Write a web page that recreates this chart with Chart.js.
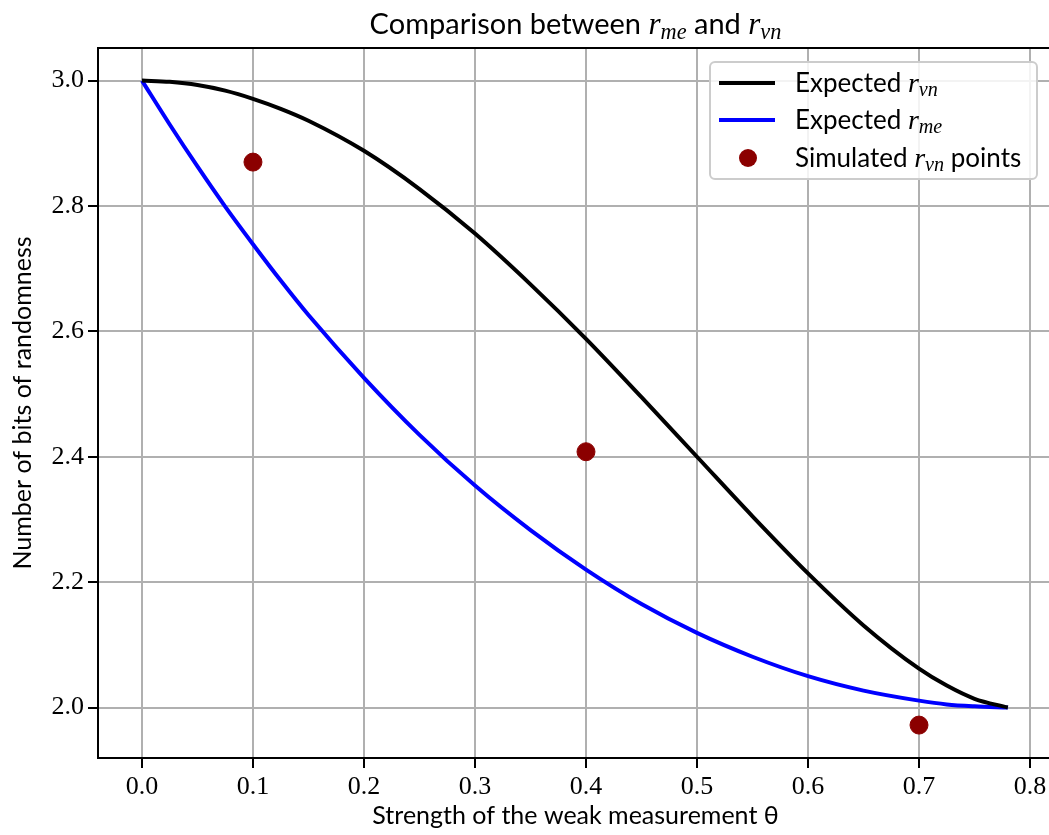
<!DOCTYPE html>
<html>
<head>
<meta charset="utf-8">
<script src="https://cdn.jsdelivr.net/npm/chart.js@4.4.1/dist/chart.umd.min.js"></script>
<style>
  html, body { margin: 0; padding: 0; background: #fff; overflow: hidden; }
  #wrap { position: relative; width: 1080px; height: 835px; }
  #title {
    position: absolute; left: 0; top: 5px; width: 1151px; text-align: center;
    font-family: Lato, sans-serif; font-size: 29px; color: #000; white-space: nowrap;
  }
  #title .m { font-size: 31px; }
  .m { font-family: "Liberation Serif", serif; font-style: italic; font-size: 28px; }
  .m sub { font-size: 0.72em; vertical-align: -0.22em; }
  #legend {
    position: absolute; left: 709px; top: 61px; width: 325px; height: 115px;
    border: 2px solid #cccccc; border-radius: 6px; background: rgba(255,255,255,0.85);
    font-family: Lato, sans-serif; font-size: 26px; color: #000;
  }
  .row { position: absolute; left: 0; height: 36px; line-height: 36px; white-space: nowrap; }
  .sw { position: absolute; left: 8px; top: 16px; width: 56px; height: 4px; }
  .dot { position: absolute; left: 28px; top: 9px; width: 18px; height: 18px; border-radius: 50%; background: #8b0000; }
  .txt { position: absolute; left: 84px; top: -1px; }
</style>
</head>
<body>
<div id="wrap">
  <canvas id="chart" width="1080" height="835"></canvas>
  <div id="title">Comparison between <span class="m">r<sub>me</sub></span> and <span class="m">r<sub>vn</sub></span></div>
  <div id="legend">
    <div class="row" style="top:2px"><div class="sw" style="background:#000"></div><div class="txt">Expected <span class="m">r<sub>vn</sub></span></div></div>
    <div class="row" style="top:39px"><div class="sw" style="background:#0000ff"></div><div class="txt">Expected <span class="m">r<sub>me</sub></span></div></div>
    <div class="row" style="top:77px"><div class="dot"></div><div class="txt">Simulated <span class="m">r<sub>vn</sub></span> points</div></div>
  </div>
</div>
<script>
// theta values along the curves
const thetaValues = [0, 0.025, 0.05, 0.075, 0.1, 0.125, 0.15, 0.2, 0.25, 0.3, 0.35, 0.4, 0.45, 0.5, 0.55, 0.6, 0.65, 0.7, 0.725, 0.75, 0.78];
// expected r_vn (black)
const rvnExpected = [3.0, 2.998, 2.993, 2.984, 2.971, 2.955, 2.936, 2.888, 2.827, 2.756, 2.675, 2.588, 2.495, 2.400, 2.305, 2.214, 2.131, 2.062, 2.035, 2.014, 2.000];
// expected r_me (blue)
const rmeExpected = [3.0, 2.930, 2.863, 2.799, 2.739, 2.681, 2.626, 2.526, 2.435, 2.354, 2.283, 2.220, 2.165, 2.119, 2.081, 2.050, 2.027, 2.011, 2.005, 2.002, 2.000];
// simulated r_vn points
const simTheta = [0.1, 0.4, 0.7];
const simRvn = [2.870, 2.408, 1.972];

const xTickValues = [0, 0.1, 0.2, 0.3, 0.4, 0.5, 0.6, 0.7, 0.8];
const yTickValues = [2.0, 2.2, 2.4, 2.6, 2.8, 3.0];

const toXY = (xs, ys) => xs.map((x, i) => ({ x: x, y: ys[i] }));

// top spine (the right one falls outside the picture)
const framePlugin = {
  id: 'frame',
  afterDatasetsDraw(chart) {
    const { ctx, chartArea } = chart;
    ctx.save();
    ctx.strokeStyle = '#000';
    ctx.lineWidth = 2;
    ctx.beginPath();
    ctx.moveTo(chartArea.left - 1, chartArea.top);
    ctx.lineTo(chartArea.right, chartArea.top);
    ctx.stroke();
    ctx.restore();
  }
};

const tickFont = { family: '"Liberation Serif", serif', size: 26 };
const labelFont = { family: 'Lato, sans-serif', size: 25 };

const ctx = document.getElementById('chart').getContext('2d');
new Chart(ctx, {
  type: 'line',
  data: {
    datasets: [
      {
        label: 'Expected r_vn',
        data: toXY(thetaValues, rvnExpected),
        borderColor: '#000000',
        borderWidth: 4,
        pointRadius: 0,
        fill: false,
        cubicInterpolationMode: 'monotone'
      },
      {
        label: 'Expected r_me',
        data: toXY(thetaValues, rmeExpected),
        borderColor: '#0000ff',
        borderWidth: 4,
        pointRadius: 0,
        fill: false,
        cubicInterpolationMode: 'monotone'
      },
      {
        type: 'scatter',
        label: 'Simulated r_vn points',
        data: toXY(simTheta, simRvn),
        backgroundColor: '#8b0000',
        borderColor: '#8b0000',
        pointRadius: 9,
        showLine: false
      }
    ]
  },
  options: {
    responsive: false,
    animation: false,
    devicePixelRatio: 1,
    layout: { padding: { top: 48, right: 27, left: 0, bottom: 0 } },
    plugins: {
      legend: { display: false },
      title: { display: false },
      tooltip: { enabled: false }
    },
    scales: {
      x: {
        type: 'linear',
        min: -0.0396,
        max: 0.8207,
        afterFit: s => { s.height = 77; },
        afterBuildTicks: s => { s.ticks = xTickValues.map(v => ({ value: v })); },
        ticks: { font: tickFont, color: '#000', padding: 4, maxRotation: 0, callback: v => v.toFixed(1) },
        grid: { color: '#b0b0b0', lineWidth: 2, tickLength: 10, tickColor: '#000', tickWidth: 2 },
        border: { color: '#000', width: 2 },
        title: { display: true, text: 'Strength of the weak measurement θ', font: labelFont, color: '#000', padding: { top: 0, bottom: 4 } }
      },
      y: {
        type: 'linear',
        min: 1.9195,
        max: 3.052,
        afterFit: s => { s.width = 98; },
        afterBuildTicks: s => { s.ticks = yTickValues.map(v => ({ value: v })); },
        ticks: { font: tickFont, color: '#000', padding: 4, callback: v => v.toFixed(1) },
        grid: { color: '#b0b0b0', lineWidth: 2, tickLength: 10, tickColor: '#000', tickWidth: 2 },
        border: { color: '#000', width: 2 },
        title: { display: true, text: 'Number of bits of randomness', font: labelFont, color: '#000', padding: { top: 8, bottom: 0 } }
      }
    }
  },
  plugins: [framePlugin]
});
</script>
</body>
</html>
